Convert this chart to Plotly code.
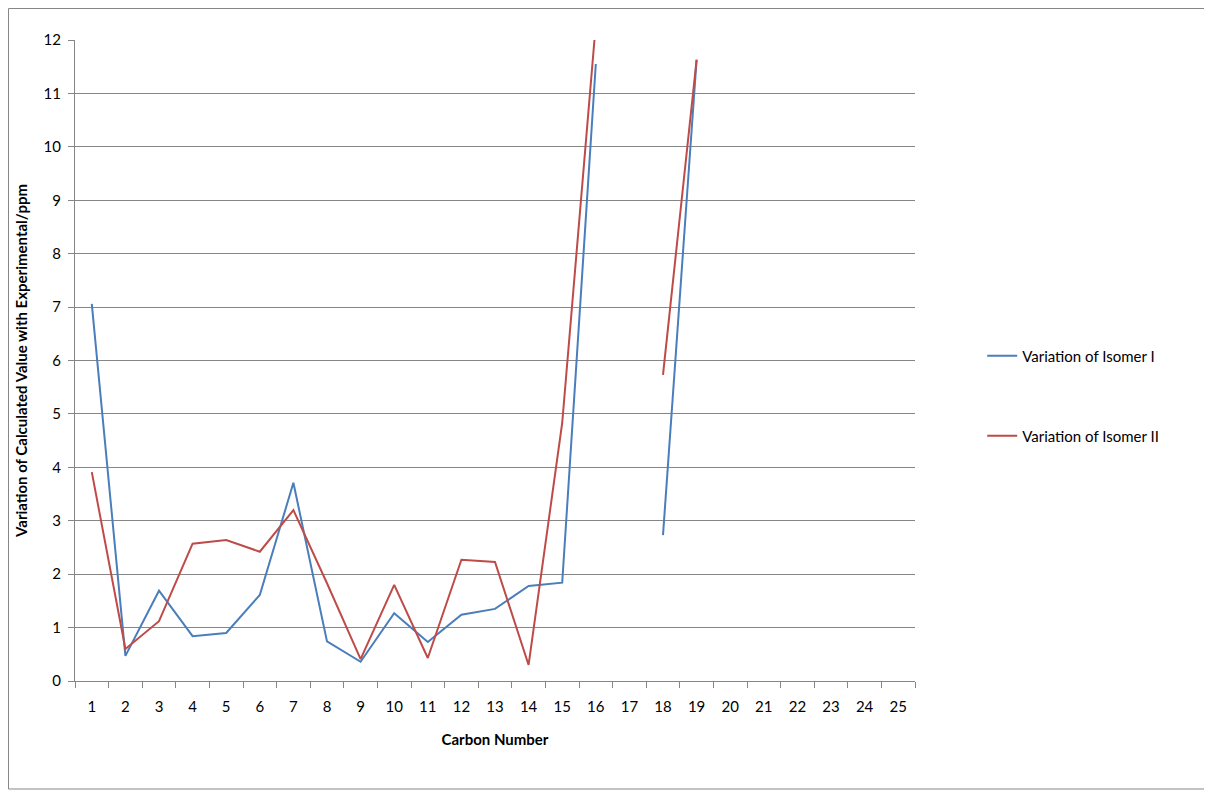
import plotly.graph_objects as go

# Carbon numbers on the category axis
carbon = list(range(1, 26))

# Deviation of calculated shift from experiment (ppm), None = no value
isomer_1 = [7.06, 0.47, 1.69, 0.84, 0.90, 1.61, 3.71, 0.74, 0.36, 1.27,
            0.73, 1.24, 1.35, 1.78, 1.84, 11.55, None, 2.73, 11.63,
            None, None, None, None, None, None]
isomer_2 = [3.91, 0.60, 1.12, 2.57, 2.64, 2.42, 3.20, 1.83, 0.41, 1.80,
            0.43, 2.27, 2.23, 0.30, 4.83, 12.3, None, 5.73, 11.63,
            None, None, None, None, None, None]

font_name = 'Lato, Open Sans, Arial'
grey = '#868686'

# page body has an 8px margin, so the figure is a bit smaller and shifted
W, H = 1204, 784
L, T = 67, 32
PW, PH = 840, 641

fig = go.Figure()
fig.add_trace(go.Scatter(x=carbon, y=isomer_1, mode='lines', name='Variation of Isomer I',
                         line=dict(color='#4A7EBB', width=2), legend='legend'))
fig.add_trace(go.Scatter(x=carbon, y=isomer_2, mode='lines', name='Variation of Isomer II',
                         line=dict(color='#BE4B48', width=2), legend='legend2'))

legend_style = dict(font=dict(family=font_name, size=15, color='#000000'),
                    bgcolor='rgba(0,0,0,0)', xanchor='left', yanchor='middle',
                    itemwidth=30)

fig.update_layout(
    width=W, height=H,
    margin=dict(l=L, r=W - L - PW, t=T, b=H - T - PH),
    paper_bgcolor='white', plot_bgcolor='white',
    showlegend=True,
    font=dict(family=font_name, size=15, color='#000000'),
    legend=dict(x=1.080, y=(681 - 356) / PH, **legend_style),
    legend2=dict(x=1.080, y=(681 - 436) / PH, **legend_style),
    xaxis=dict(
        range=[0.5, 25.5], tickmode='array', tickvals=carbon, ticks='',
        ticklabelstandoff=12, showgrid=False, showline=True, linecolor=grey,
        zeroline=False,
        minor=dict(tickmode='array', tickvals=[i + 0.5 for i in range(0, 26)],
                   ticks='outside', ticklen=6, tickcolor=grey, showgrid=False),
        title=dict(text='<b>Carbon Number</b>', standoff=20,
                   font=dict(family=font_name, size=15)),
    ),
    yaxis=dict(
        range=[0, 12], dtick=1, ticks='outside', ticklen=6, tickcolor=grey,
        showgrid=True, gridcolor=grey, gridwidth=1, showline=True, linecolor=grey,
        zeroline=False, ticklabelstandoff=4,
        title=dict(text='<b>Variation of Calculated Value with Experimental/ppm</b>',
                   standoff=12, font=dict(family=font_name, size=15)),
    ),
    shapes=[dict(type='rect', xref='paper', yref='paper',
                 x0=(0.5 - L) / PW, x1=(1199 - L) / PW,
                 y0=(T + PH - 781) / PH, y1=(T + PH - 0.5) / PH,
                 line=dict(color=grey, width=1), layer='below')],
)

fig.write_html("out.html")
